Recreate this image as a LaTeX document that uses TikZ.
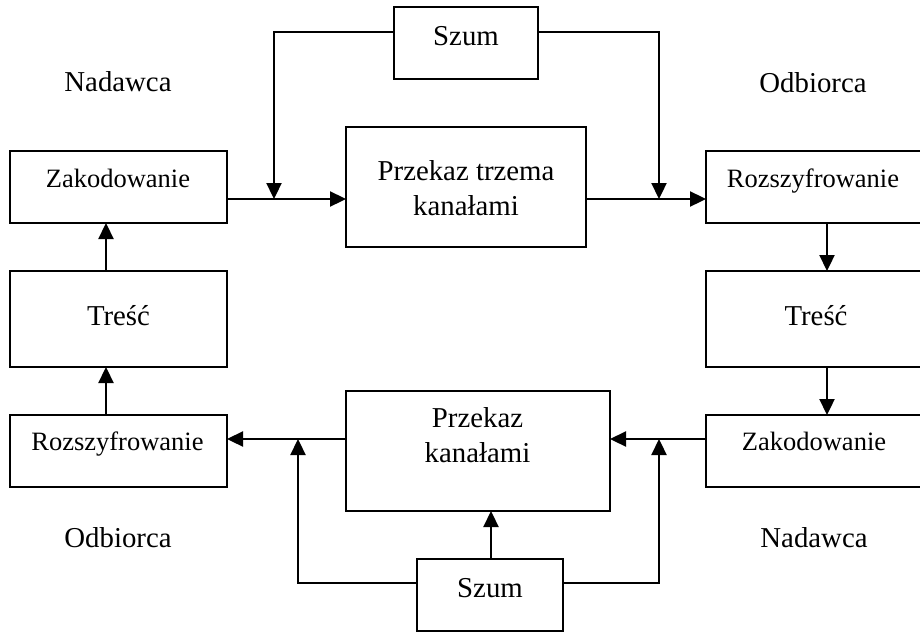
\documentclass[tikz,border=0pt]{standalone}
\usepackage{fontspec}
\setmainfont{Liberation Serif}
\usetikzlibrary{arrows.meta}
\begin{document}
\begin{tikzpicture}[x=1pt,y=-1pt,
  box/.style={draw, line width=2.3pt, inner sep=0pt, outer sep=0pt},
  lbl/.style={inner sep=0pt, anchor=base, font=\fontsize{28.8}{35.5}\selectfont},
  lblsmall/.style={inner sep=0pt, anchor=base, font=\fontsize{26.5}{32}\selectfont},
  lbltwo/.style={inner sep=0pt, anchor=center, align=center, font=\fontsize{28.8}{35.5}\selectfont},
  arr/.style={line width=2.3pt, -{Triangle[length=16pt,width=15pt]}}]
\useasboundingbox (0,0) rectangle (920,632);

% boxes
\node[box, minimum width=144pt, minimum height=72pt] (szumT) at (466,43) {};
\node[box, minimum width=217pt, minimum height=72pt] (zakL) at (118.5,187) {};
\node[box, minimum width=240pt, minimum height=120pt] (przT) at (466,187) {};
\node[box, minimum width=216pt, minimum height=72pt] (rozR) at (814,187) {};
\node[box, minimum width=217pt, minimum height=96pt] (trescL) at (118.5,319) {};
\node[box, minimum width=216pt, minimum height=96pt] (trescR) at (814,319) {};
\node[box, minimum width=217pt, minimum height=72pt] (rozL) at (118.5,451) {};
\node[box, minimum width=264pt, minimum height=120pt] (przB) at (478,451) {};
\node[box, minimum width=216pt, minimum height=72pt] (zakR) at (814,451) {};
\node[box, minimum width=146pt, minimum height=72pt] (szumB) at (490,595) {};

% texts
\node[lbl] (tSzumT) at (466,45) {Szum};
\node[lbl] (tNadT) at (118,91) {Nadawca};
\node[lbl] (tOdbT) at (813,92) {Odbiorca};
\node[lblsmall] (tZakL) at (118,187) {Zakodowanie};
\node[lbltwo] (tPrzT) at (466,188) {Przekaz trzema\\kanałami};
\node[lblsmall] (tRozR) at (813,187) {Rozszyfrowanie};
\node[lbl] (tTrL) at (118.5,325) {Treść};
\node[lbl] (tTrR) at (816,325) {Treść};
\node[lblsmall] (tRozL) at (117.5,450) {Rozszyfrowanie};
\node[lbltwo] (tPrzB) at (477.5,435) {Przekaz\\kanałami};
\node[lblsmall] (tZakR) at (814,450) {Zakodowanie};
\node[lbl] (tOdbB) at (118,547) {Odbiorca};
\node[lbl] (tNadB) at (814,547) {Nadawca};
\node[lbl] (tSzumB) at (490,597) {Szum};

% junction points
\coordinate (jTL) at (274,199);
\coordinate (jTR) at (659,199);
\coordinate (jBL) at (298,439);
\coordinate (jBR) at (659,439);

% top flow
\draw[arr] ([yshift=-12pt]zakL.east) -- ([yshift=-12pt]przT.west);
\draw[arr] ([yshift=-12pt]przT.east) -- ([yshift=-12pt]rozR.west);
\draw[arr] ([yshift=11pt]szumT.west) -| (jTL);
\draw[arr] ([yshift=11pt]szumT.east) -| (jTR);

% right column
\draw[arr] ([xshift=13pt]rozR.south) -- ([xshift=13pt]trescR.north);
\draw[arr] ([xshift=13pt]trescR.south) -- ([xshift=13pt]zakR.north);

% bottom flow
\draw[arr] ([yshift=12pt]zakR.west) -- ([yshift=12pt]przB.east);
\draw[arr] ([yshift=12pt]przB.west) -- ([yshift=12pt]rozL.east);
\draw[arr] ([yshift=12pt]szumB.west) -| (jBL);
\draw[arr] ([yshift=12pt]szumB.east) -| (jBR);
\draw[arr] ([xshift=1pt]szumB.north) -- ([xshift=1pt]szumB.north |- przB.south);

% left column
\draw[arr] ([xshift=-12.5pt]rozL.north) -- ([xshift=-12.5pt]trescL.south);
\draw[arr] ([xshift=-12.5pt]trescL.north) -- ([xshift=-12.5pt]zakL.south);
\end{tikzpicture}
\end{document}
